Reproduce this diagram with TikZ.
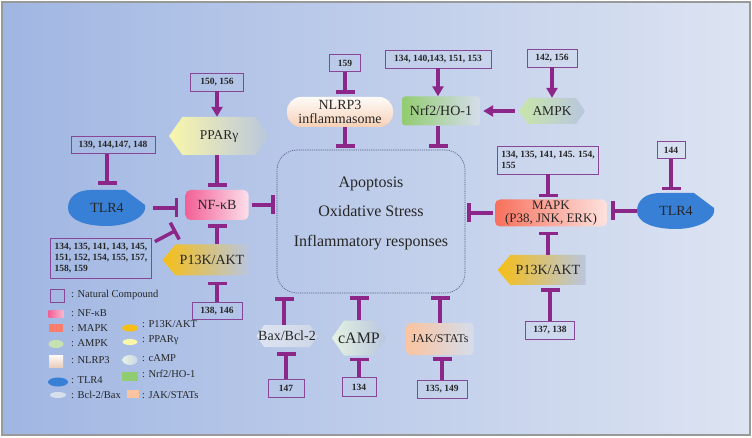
\documentclass[tikz,border=0pt]{standalone}
\usepackage{fontspec}
\setmainfont{Liberation Serif}
\usetikzlibrary{arrows.meta,shapes.symbols,shapes.geometric}
\definecolor{linkpurple}{RGB}{140,38,136}
\definecolor{boxpurple}{RGB}{135,70,150}
\definecolor{bgleft}{RGB}{160,182,226}
\definecolor{bgright}{RGB}{221,228,242}
\definecolor{nfkbpink}{RGB}{242,96,150}
\definecolor{mapkred}{RGB}{248,112,92}
\definecolor{aktgold}{RGB}{246,190,22}
\definecolor{pparyellow}{RGB}{250,246,170}
\definecolor{ampkgreen}{RGB}{200,230,170}
\definecolor{nrfgreen}{RGB}{146,204,112}
\definecolor{nlrppeach}{RGB}{246,208,182}
\definecolor{jakpeach}{RGB}{250,196,160}
\definecolor{tlrblue}{RGB}{56,128,214}
\definecolor{baxgray}{RGB}{222,228,240}
\definecolor{campgreen}{RGB}{228,242,226}
\definecolor{fadeblue}{RGB}{185,198,222}
\definecolor{boxline}{RGB}{80,90,130}
\tikzset{
    pathnode/.style = {
        align=center,
        inner sep=0pt,
        text=black!85,
        font=\fontsize{14}{15}\selectfont
    },
    boxnode/.style = {
        pathnode,
        rectangle,
        rounded corners=5pt
    },
    hexnode/.style = {
        pathnode,
        signal,
        signal to=east and west,
        signal pointer angle=110
    },
    aktnode/.style = {
        pathnode,
        signal,
        signal to=west,
        signal pointer angle=100,
        left color=aktgold,
        middle color=aktgold!92!white,
        right color=fadeblue
    },
    numnode/.style = {
        draw=boxpurple,
        line width=0.8pt,
        align=left,
        inner sep=2pt,
        text=black!85,
        font=\bfseries\fontsize{9.5}{11}\selectfont
    },
    inhibit/.style = {
        draw=linkpurple,
        line width=3.5pt,
        -{Bar[width=19pt]}
    },
    activate/.style = {
        draw=linkpurple,
        line width=3.5pt,
        -{Triangle[width=11pt,length=10pt]}
    },
    keyswatch/.style = {
        inner sep=0pt,
        rectangle
    },
    keytext/.style = {
        anchor=west,
        inner sep=0pt,
        text=black!85,
        font=\fontsize{10.5}{12}\selectfont
    },
    tlrblob/.pic = {
        \fill[tlrblue] (-39,0) .. controls (-39,-11) and (-30,-18) .. (-16,-18)
            -- (18,-18) -- (38,-3) .. controls (41,8) and (22,18) .. (0,18)
            .. controls (-24,18) and (-39,11) .. (-39,0) -- cycle;
    }
}
\begin{document}
\begin{tikzpicture}[x=1pt, y=-1pt]
    \useasboundingbox (0,0) rectangle (752,438);
    \fill[white] (0,0) rectangle (752,438);
    \shade[left color=bgleft, right color=bgright] (2,2) rectangle (750,435);
    \draw[gray!80, line width=1.2pt] (2,2) rectangle (750,435);

    \node[draw=boxline, dash pattern=on 1.2pt off 1pt, line width=0.6pt, rounded corners=20pt,
        minimum width=188pt, minimum height=143pt] (core) at (371,221.5) {};
    \node[pathnode, font=\fontsize{16}{29.5}\selectfont] (corelabel) at (371,213)
        {Apoptosis\\Oxidative Stress\\Inflammatory responses};

    \node[hexnode, minimum width=100pt, minimum height=38pt, left color=pparyellow,
        middle color=pparyellow, right color=fadeblue, font=\fontsize{13.5}{15}\selectfont] (ppar) at (219,136) {PPARγ};
    \node[boxnode, minimum width=63pt, minimum height=30pt, left color=nfkbpink,
        middle color=nfkbpink!92!white, right color=white!80!nfkbpink] (nfkb) at (217,205) {NF-κB};
    \pic at (107,208) {tlrblob};
    \node[pathnode, minimum width=78pt, minimum height=36pt] (tlrL) at (107,208) {TLR4};
    \node[aktnode, minimum width=86pt, minimum height=31pt] (aktL) at (212,260) {P13K/AKT};

    \node[pathnode, rectangle, rounded corners=14pt, minimum width=106pt, minimum height=30pt,
        top color=white!92!nlrppeach, bottom color=nlrppeach, font=\fontsize{14}{13.5}\selectfont] (nlrp) at (340,112) {NLRP3\\inflammasome};
    \node[boxnode, rounded corners=3pt, minimum width=78pt, minimum height=29pt, left color=nrfgreen,
        middle color=nrfgreen!85!white, right color=fadeblue!60!white] (nrf) at (441,111) {Nrf2/HO-1};
    \node[hexnode, minimum width=66pt, minimum height=26pt, left color=ampkgreen,
        right color=fadeblue, font=\fontsize{13.5}{15}\selectfont] (ampk) at (552,111) {AMPK};

    \node[boxnode, minimum width=112pt, minimum height=27pt, left color=mapkred,
        middle color=mapkred!90!white, right color=white!80!mapkred, font=\fontsize{13}{13.5}\selectfont] (mapk) at (551,213) {MAPK\\(P38, JNK, ERK)};
    \pic at (676,211) {tlrblob};
    \node[pathnode, minimum width=78pt, minimum height=36pt] (tlrR) at (676,211) {TLR4};
    \node[aktnode, minimum width=88pt, minimum height=30pt] (aktR) at (548,270) {P13K/AKT};

    \node[hexnode, inner xsep=-7pt, minimum width=61pt, minimum height=22pt, left color=baxgray,
        right color=fadeblue!70!white] (bax) at (287,336) {Bax/Bcl-2};
    \node[hexnode, inner xsep=-6pt, minimum width=42pt, minimum height=35pt, left color=campgreen,
        right color=fadeblue, font=\fontsize{16}{17}\selectfont] (camp) at (359,338) {cAMP};
    \node[boxnode, rounded corners=4pt, minimum width=67pt, minimum height=32pt, left color=jakpeach,
        middle color=jakpeach, right color=fadeblue!60!white, font=\fontsize{12}{13}\selectfont] (jak) at (440,339) {\raisebox{-4pt}{JAK/STATs}};

    \node[numnode, minimum width=53pt, minimum height=18pt] (n150) at (217,82) {150, 156};
    \node[numnode, minimum width=84pt, minimum height=17pt] (n139) at (113,145) {139, 144,147, 148};
    \node[numnode, minimum width=101pt, minimum height=40pt] (n134L) at (101,258) {134, 135, 141, 143, 145,\\151, 152, 154, 155, 157,\\158, 159};
    \node[numnode, minimum width=50pt, minimum height=17pt] (n138) at (217,311) {138, 146};
    \node[numnode, minimum width=31pt, minimum height=17pt] (n159) at (345,63) {159};
    \node[numnode, minimum width=106pt, minimum height=18pt] (n134T) at (438,59) {134, 140,143, 151, 153};
    \node[numnode, minimum width=50pt, minimum height=18pt] (n142) at (552,58) {142, 156};
    \node[numnode, minimum width=101pt, minimum height=28pt] (n134R) at (548,160) {134, 135, 141, 145. 154,\\155};
    \node[numnode, minimum width=28pt, minimum height=17pt] (n144) at (671,150) {144};
    \node[numnode, minimum width=49pt, minimum height=18pt] (n137) at (550,330) {137, 138};
    \node[numnode, minimum width=36pt, minimum height=18pt] (n147) at (286,388) {147};
    \node[numnode, minimum width=34pt, minimum height=19pt] (n134B) at (359,387) {134};
    \node[numnode, minimum width=50pt, minimum height=18pt] (n135) at (442,389) {135, 149};

    \draw[activate] (n150.south) -- (n150.south |- ppar.north);
    \draw[inhibit, shorten >=3pt] (nfkb.north |- ppar.south) -- (nfkb.north);
    \draw[inhibit, shorten >=5pt] (tlrL.north |- n139.south) -- (tlrL.north);
    \draw[inhibit, shorten <=7pt, shorten >=7pt] (tlrL.east) -- (tlrL.east -| nfkb.west);
    \draw[inhibit] ([shift={(3,4)}]n134L.north east) -- ([shift={(-9,10)}]nfkb.south west);
    \draw[inhibit, shorten >=4pt] (nfkb.south |- aktL.north) -- (nfkb.south);
    \draw[inhibit, shorten >=6pt] (n138.north) -- (n138.north |- aktL.south);
    \draw[inhibit, shorten <=3pt, shorten >=2pt] (nfkb.east) -- (nfkb.east -| core.west);

    \draw[inhibit, shorten >=3pt] (n159.south) -- (n159.south |- nlrp.north);
    \draw[inhibit, shorten >=2pt] (n159.south |- nlrp.south) -- (n159.south |- core.north);
    \draw[activate] (n134T.south) -- (n134T.south |- nrf.north);
    \draw[inhibit, shorten >=2pt] (n134T.south |- nrf.south) -- (n134T.south |- core.north);
    \draw[activate] (n142.south) -- (ampk.north);
    \draw[activate, shorten <=4pt, shorten >=3pt] (ampk.west) -- (nrf.east);

    \draw[inhibit, shorten >=2pt] (n134R.south) -- (n134R.south |- mapk.north);
    \draw[inhibit, shorten <=2pt, shorten >=2pt] (mapk.west) -- (mapk.west -| core.east);
    \draw[inhibit, shorten >=2.5pt] (n144.south) -- (n144.south |- tlrR.north);
    \draw[inhibit, shorten >=4pt] (tlrR.west) -- (tlrR.west -| mapk.east);
    \draw[inhibit, shorten >=5pt] (aktR.north) -- (aktR.north |- mapk.south);
    \draw[inhibit, shorten >=3pt] (n137.north) -- (n137.north |- aktR.south);

    \draw[inhibit, shorten >=4pt] ([xshift=-3pt]bax.north) -- ([xshift=-3pt]bax.north |- core.south);
    \draw[inhibit, shorten >=5pt] (n147.north) -- (n147.north |- bax.south);
    \draw[inhibit, shorten >=3pt] (camp.north) -- (camp.north |- core.south);
    \draw[inhibit, shorten >=2pt] (n134B.north) -- (n134B.north |- camp.south);
    \draw[inhibit, shorten >=3pt] (jak.north) -- (jak.north |- core.south);
    \draw[inhibit, shorten >=2pt] (n135.north) -- (n135.north |- jak.south);

    \node[draw=boxpurple, line width=0.8pt, minimum width=14pt, minimum height=13pt, inner sep=0pt] (keybox) at (57,296) {};
    \node[keytext] (keyboxtext) at (71,295) {: Natural Compound};
    \node[keyswatch, minimum width=15pt, minimum height=7pt, left color=nfkbpink, right color=nfkbpink!45!white] (keynfkb) at (56,314) {};
    \node[keytext] (keynfkbtext) at (71,313) {: NF-κB};
    \node[keyswatch, minimum width=14pt, minimum height=8pt, fill=mapkred!90!white] (keymapk) at (56,328) {};
    \node[keytext] (keymapktext) at (71,328) {: MAPK};
    \node[keyswatch, ellipse, minimum width=15pt, minimum height=8pt, fill=ampkgreen!85!fadeblue] (keyampk) at (56,344) {};
    \node[keytext] (keyampktext) at (71,343) {: AMPK};
    \node[keyswatch, minimum width=14pt, minimum height=12pt, top color=white!90!nlrppeach, bottom color=nlrppeach!80!fadeblue] (keynlrp) at (56,361) {};
    \node[keytext] (keynlrptext) at (71,360) {: NLRP3};
    \node[keyswatch, ellipse, minimum width=20pt, minimum height=9pt, fill=tlrblue] (keytlr) at (58,382) {};
    \node[keytext] (keytlrtext) at (71,380) {: TLR4};
    \node[keyswatch, ellipse, minimum width=16pt, minimum height=6pt, fill=baxgray!80!fadeblue] (keybax) at (58,395) {};
    \node[keytext] (keybaxtext) at (71,395) {: Bcl-2/Bax};
    \node[keyswatch, ellipse, minimum width=16pt, minimum height=7pt, fill=aktgold] (keyakt) at (130,328) {};
    \node[keytext] (keyakttext) at (142,324) {: P13K/AKT};
    \node[keyswatch, ellipse, minimum width=15pt, minimum height=6pt, fill=pparyellow] (keyppar) at (130,342) {};
    \node[keytext] (keyppartext) at (142,340) {: PPARγ};
    \node[keyswatch, ellipse, minimum width=15pt, minimum height=10pt, left color=campgreen, right color=fadeblue!70!white] (keycamp) at (130,360) {};
    \node[keytext] (keycamptext) at (142,358) {: cAMP};
    \node[keyswatch, minimum width=16pt, minimum height=9pt, fill=nrfgreen] (keynrf) at (130,376) {};
    \node[keytext] (keynrftext) at (142,374) {: Nrf2/HO-1};
    \node[keyswatch, minimum width=12pt, minimum height=8pt, fill=jakpeach] (keyjak) at (133,394) {};
    \node[keytext] (keyjaktext) at (142,395) {: JAK/STATs};
\end{tikzpicture}
\end{document}
